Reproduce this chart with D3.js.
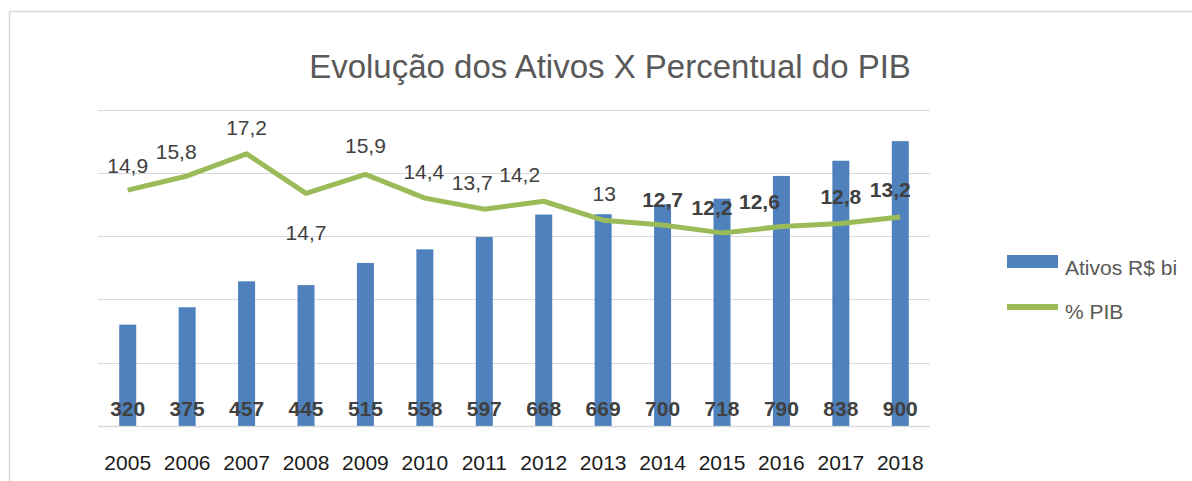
<!DOCTYPE html>
<html>
<head>
<meta charset="utf-8">
<style>
  body { margin: 0; background: #fff; font-family: "Liberation Sans", Arial, sans-serif; }
  svg { display: block; }
</style>
<script src="https://cdn.jsdelivr.net/npm/d3@7/dist/d3.min.js"></script>
</head>
<body>
<svg id="chart"></svg>
<script>
// data
let years = ["2005","2006","2007","2008","2009","2010","2011","2012","2013","2014","2015","2016","2017","2018"]
let ativos = [320, 375, 457, 445, 515, 558, 597, 668, 669, 700, 718, 790, 838, 900]
let pctPib = [14.9, 15.8, 17.2, 14.7, 15.9, 14.4, 13.7, 14.2, 13, 12.7, 12.2, 12.6, 12.8, 13.2]
let pctLabels = ["14,9","15,8","17,2","14,7","15,9","14,4","13,7","14,2","13","12,7","12,2","12,6","12,8","13,2"]
let seriesNames = ["Ativos R$ bi", "% PIB"]

// label placement (moved by hand in the original)
let pctLabelDx = [0, -11, 0, 0, 0, -1, -12, -24, 1, 0, -10, -22, 0, -10]
let pctLabelDy = [-17, -17, -19, 47, -21, -19, -19, -19, -19, -18, -18, -18, -19, -20]
let pctBold = [0,0,0,0,0,0,0,0,0,1,1,1,1,1]

let width = 1192, height = 481
let svg = d3.select("#chart").attr("width", width).attr("height", height)

// outer frame
svg.append("rect")
  .attr("x", 9.5).attr("y", 11.5)
  .attr("width", 1210).attr("height", 500)
  .attr("fill", "none").attr("stroke", "#d9d9d9").attr("stroke-width", 1.5)

let plot = {left: 98, right: 930, top: 109.5, bottom: 425.9}

let x = d3.scaleBand()
  .domain(years)
  .range([plot.left, plot.right])
  .paddingInner(0.714).paddingOuter(0.357)

let xc = d3.scaleBand().domain(years).range([plot.left, plot.right])

let y = d3.scaleLinear().domain([0, 1000]).range([plot.bottom, plot.top])
let y2 = d3.scaleLinear().domain([0, 20]).range([plot.bottom, plot.top])

// gridlines
svg.append("g")
  .selectAll("line")
  .data(y.ticks(5))
  .enter().append("line")
  .attr("x1", plot.left).attr("x2", plot.right)
  .attr("y1", d => Math.round(y(d)) + 0.5)
  .attr("y2", d => Math.round(y(d)) + 0.5)
  .attr("stroke", "#d9d9d9")
  .attr("stroke-width", d => d == 0 ? 1.5 : 1.2)

// title
svg.append("text")
  .attr("x", 610).attr("y", 78)
  .attr("text-anchor", "middle")
  .attr("font-size", 33)
  .attr("fill", "#595959")
  .text("Evolução dos Ativos X Percentual do PIB")

// bars
svg.append("g")
  .selectAll("rect")
  .data(ativos)
  .enter().append("rect")
  .attr("x", (d, i) => x(years[i]))
  .attr("width", x.bandwidth())
  .attr("y", d => y(d))
  .attr("height", d => y(0) - y(d))
  .attr("fill", "#4f81bd")

// line
let line = d3.line()
  .x((d, i) => xc(years[i]) + xc.bandwidth() / 2)
  .y(d => y2(d))

svg.append("path")
  .datum(pctPib)
  .attr("d", line)
  .attr("fill", "none")
  .attr("stroke", "#9bbb59")
  .attr("stroke-width", 5)
  .attr("stroke-linejoin", "round")

// bar labels
svg.append("g")
  .selectAll("text")
  .data(ativos)
  .enter().append("text")
  .attr("x", (d, i) => xc(years[i]) + xc.bandwidth() / 2)
  .attr("y", 416)
  .attr("text-anchor", "middle")
  .attr("font-size", 21)
  .attr("font-weight", "bold")
  .attr("fill", "#404040")
  .text(d => d)

// line labels
svg.append("g")
  .selectAll("text")
  .data(pctPib)
  .enter().append("text")
  .attr("x", (d, i) => xc(years[i]) + xc.bandwidth() / 2 + pctLabelDx[i])
  .attr("y", (d, i) => y2(d) + pctLabelDy[i])
  .attr("text-anchor", "middle")
  .attr("font-size", 21)
  .attr("font-weight", (d, i) => pctBold[i] ? "bold" : "normal")
  .attr("fill", "#404040")
  .text((d, i) => pctLabels[i])

// x axis labels
svg.append("g")
  .selectAll("text")
  .data(years)
  .enter().append("text")
  .attr("x", d => xc(d) + xc.bandwidth() / 2)
  .attr("y", 470)
  .attr("text-anchor", "middle")
  .attr("font-size", 21)
  .attr("fill", "#1a1a1a")
  .text(d => d)

// legend
let legend = svg.append("g").attr("transform", "translate(1007,0)")
legend.append("rect")
  .attr("x", 0).attr("y", 255)
  .attr("width", 51).attr("height", 13)
  .attr("fill", "#4f81bd")
legend.append("line")
  .attr("x1", 0).attr("x2", 51)
  .attr("y1", 307).attr("y2", 307)
  .attr("stroke", "#9bbb59").attr("stroke-width", 6)
legend.selectAll("text")
  .data(seriesNames)
  .enter().append("text")
  .attr("x", 58)
  .attr("y", (d, i) => i == 0 ? 275 : 319)
  .attr("font-size", 21)
  .attr("fill", "#595959")
  .text(d => d)
</script>
</body>
</html>
